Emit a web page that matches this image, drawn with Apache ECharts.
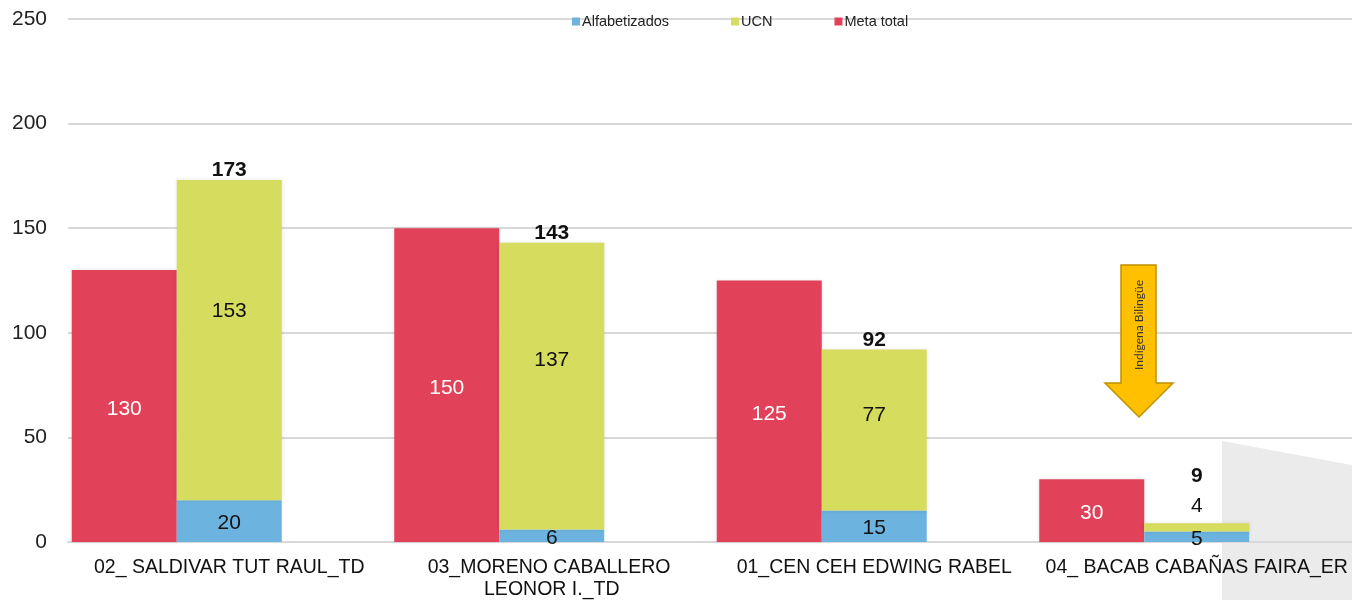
<!DOCTYPE html>
<html>
<head>
<meta charset="utf-8">
<script src="https://cdn.jsdelivr.net/npm/echarts@6/dist/echarts.min.js"></script>
<style>
  html, body { margin: 0; padding: 0; background: #fff; }
  #chart { width: 1352px; height: 600px; }
</style>
</head>
<body>
<div id="chart"></div>
<script>
// Promotores y sus metas
const categories = [
  '02_ SALDIVAR TUT RAUL_TD',
  '03_MORENO CABALLERO LEONOR I._TD',
  '01_CEN CEH EDWING RABEL',
  '04_ BACAB CABAÑAS FAIRA_ER'
];
const metaTotal = [130, 150, 125, 30];
const alfabetizados = [20, 6, 15, 5];
const ucn = [153, 137, 77, 4];
const yTicks = [0, 50, 100, 150, 200, 250];

const FONT = '"Liberation Sans", Arial, sans-serif';
const RED = '#E2415A';
const GREEN = '#D6DC5E';
const BLUE = '#6CB3E0';

// UCN segments too thin to hold their own label get it above the bar
const isThin = v => v < 10;

const chart = echarts.init(document.getElementById('chart'));

const option = {
  animation: false,
  backgroundColor: '#ffffff',
  legend: {
    data: ['Alfabetizados', 'UCN', 'Meta total'],
    left: 567,
    top: 9,
    icon: 'rect',
    itemWidth: 8,
    itemHeight: 8,
    itemGap: 62,
    textStyle: { fontFamily: FONT, fontSize: 14.5, color: '#222', padding: [0, 0, 0, -3] }
  },
  grid: { left: 68, top: 19, width: 1290, height: 523, containLabel: false, outerBoundsMode: 'none' },
  xAxis: {
    type: 'category',
    data: categories,
    axisLine: { lineStyle: { color: '#D9D9D9', width: 2 } },
    axisTick: { show: false },
    axisLabel: {
      interval: 0,
      margin: 15,
      width: 320,
      overflow: 'break',
      fontFamily: FONT,
      fontSize: 19.5,
      lineHeight: 22,
      color: '#111'
    }
  },
  yAxis: {
    type: 'value',
    min: yTicks[0],
    max: yTicks[yTicks.length - 1],
    interval: yTicks[1] - yTicks[0],
    axisLine: { show: false },
    axisTick: { show: false },
    splitLine: { lineStyle: { color: '#D9D9D9', width: 2 } },
    axisLabel: { margin: 21, fontFamily: FONT, fontSize: 21, color: '#222', padding: [3, 0, 0, 0] }
  },
  series: [
    {
      name: 'Meta total',
      type: 'bar',
      stack: 'meta',
      barWidth: 105,
      barGap: '0%',
      data: metaTotal,
      itemStyle: { color: RED, shadowBlur: 4, shadowColor: 'rgba(0,0,0,0.12)' },
      label: {
        show: true,
        position: 'inside',
        offset: [0, 3],
        fontFamily: FONT,
        fontSize: 21,
        color: '#ffffff'
      }
    },
    {
      name: 'Alfabetizados',
      type: 'bar',
      stack: 'avance',
      barWidth: 105,
      barGap: '0%',
      data: alfabetizados,
      itemStyle: { color: BLUE },
      label: {
        show: true,
        position: 'inside',
        offset: [0, 2],
        fontFamily: FONT,
        fontSize: 21,
        color: '#111'
      }
    },
    {
      name: 'UCN',
      type: 'bar',
      stack: 'avance',
      barWidth: 105,
      barGap: '0%',
      data: ucn.map(v => isThin(v)
        ? { value: v, label: { position: 'top', distance: 6, verticalAlign: 'bottom' } }
        : v),
      itemStyle: { color: GREEN, shadowBlur: 4, shadowColor: 'rgba(0,0,0,0.12)' },
      label: {
        show: true,
        position: ['50%', '41%'],
        align: 'center',
        verticalAlign: 'middle',
        fontFamily: FONT,
        fontSize: 21,
        color: '#111'
      }
    },
    {
      // zero-height cap on top of the stack that carries the total
      name: 'Total',
      type: 'bar',
      stack: 'avance',
      barWidth: 105,
      barGap: '0%',
      data: ucn.map(v => isThin(v)
        ? { value: 0, label: { offset: [0, -34] } }
        : 0),
      itemStyle: { color: 'rgba(0,0,0,0)' },
      label: {
        show: true,
        position: 'top',
        distance: 2,
        offset: [0, 3],
        fontFamily: FONT,
        fontSize: 21,
        fontWeight: 'bold',
        color: '#111',
        formatter: p => String(alfabetizados[p.dataIndex] + ucn[p.dataIndex])
      },
      tooltip: { show: false }
    },
    {
      // empty third slot in each group
      name: 'Espacio',
      type: 'bar',
      stack: 'espacio',
      barWidth: 105,
      barGap: '0%',
      data: categories.map(() => '-')
    }
  ],
  graphic: [
    {
      type: 'polygon',
      z: -10,
      silent: true,
      shape: { points: [[1222, 441], [1352, 465], [1352, 600], [1222, 600]] },
      style: { fill: '#EBEBEB' }
    },
    {
      type: 'polygon',
      z: 100,
      silent: true,
      shape: {
        points: [[1121, 265], [1156, 265], [1156, 383], [1173, 383],
                 [1139, 417], [1105, 383], [1121, 383]]
      },
      style: { fill: '#FFC000', stroke: '#BF9000', lineWidth: 1.5 }
    },
    {
      type: 'text',
      z: 101,
      silent: true,
      x: 1139,
      y: 325,
      rotation: Math.PI / 2,
      style: {
        text: 'Indígena Bilingüe',
        fontFamily: 'Lato, "Open Sans", sans-serif',
        fontSize: 12,
        fill: '#333',
        align: 'center',
        verticalAlign: 'middle'
      }
    }
  ]
};

chart.setOption(option);
</script>
</body>
</html>
